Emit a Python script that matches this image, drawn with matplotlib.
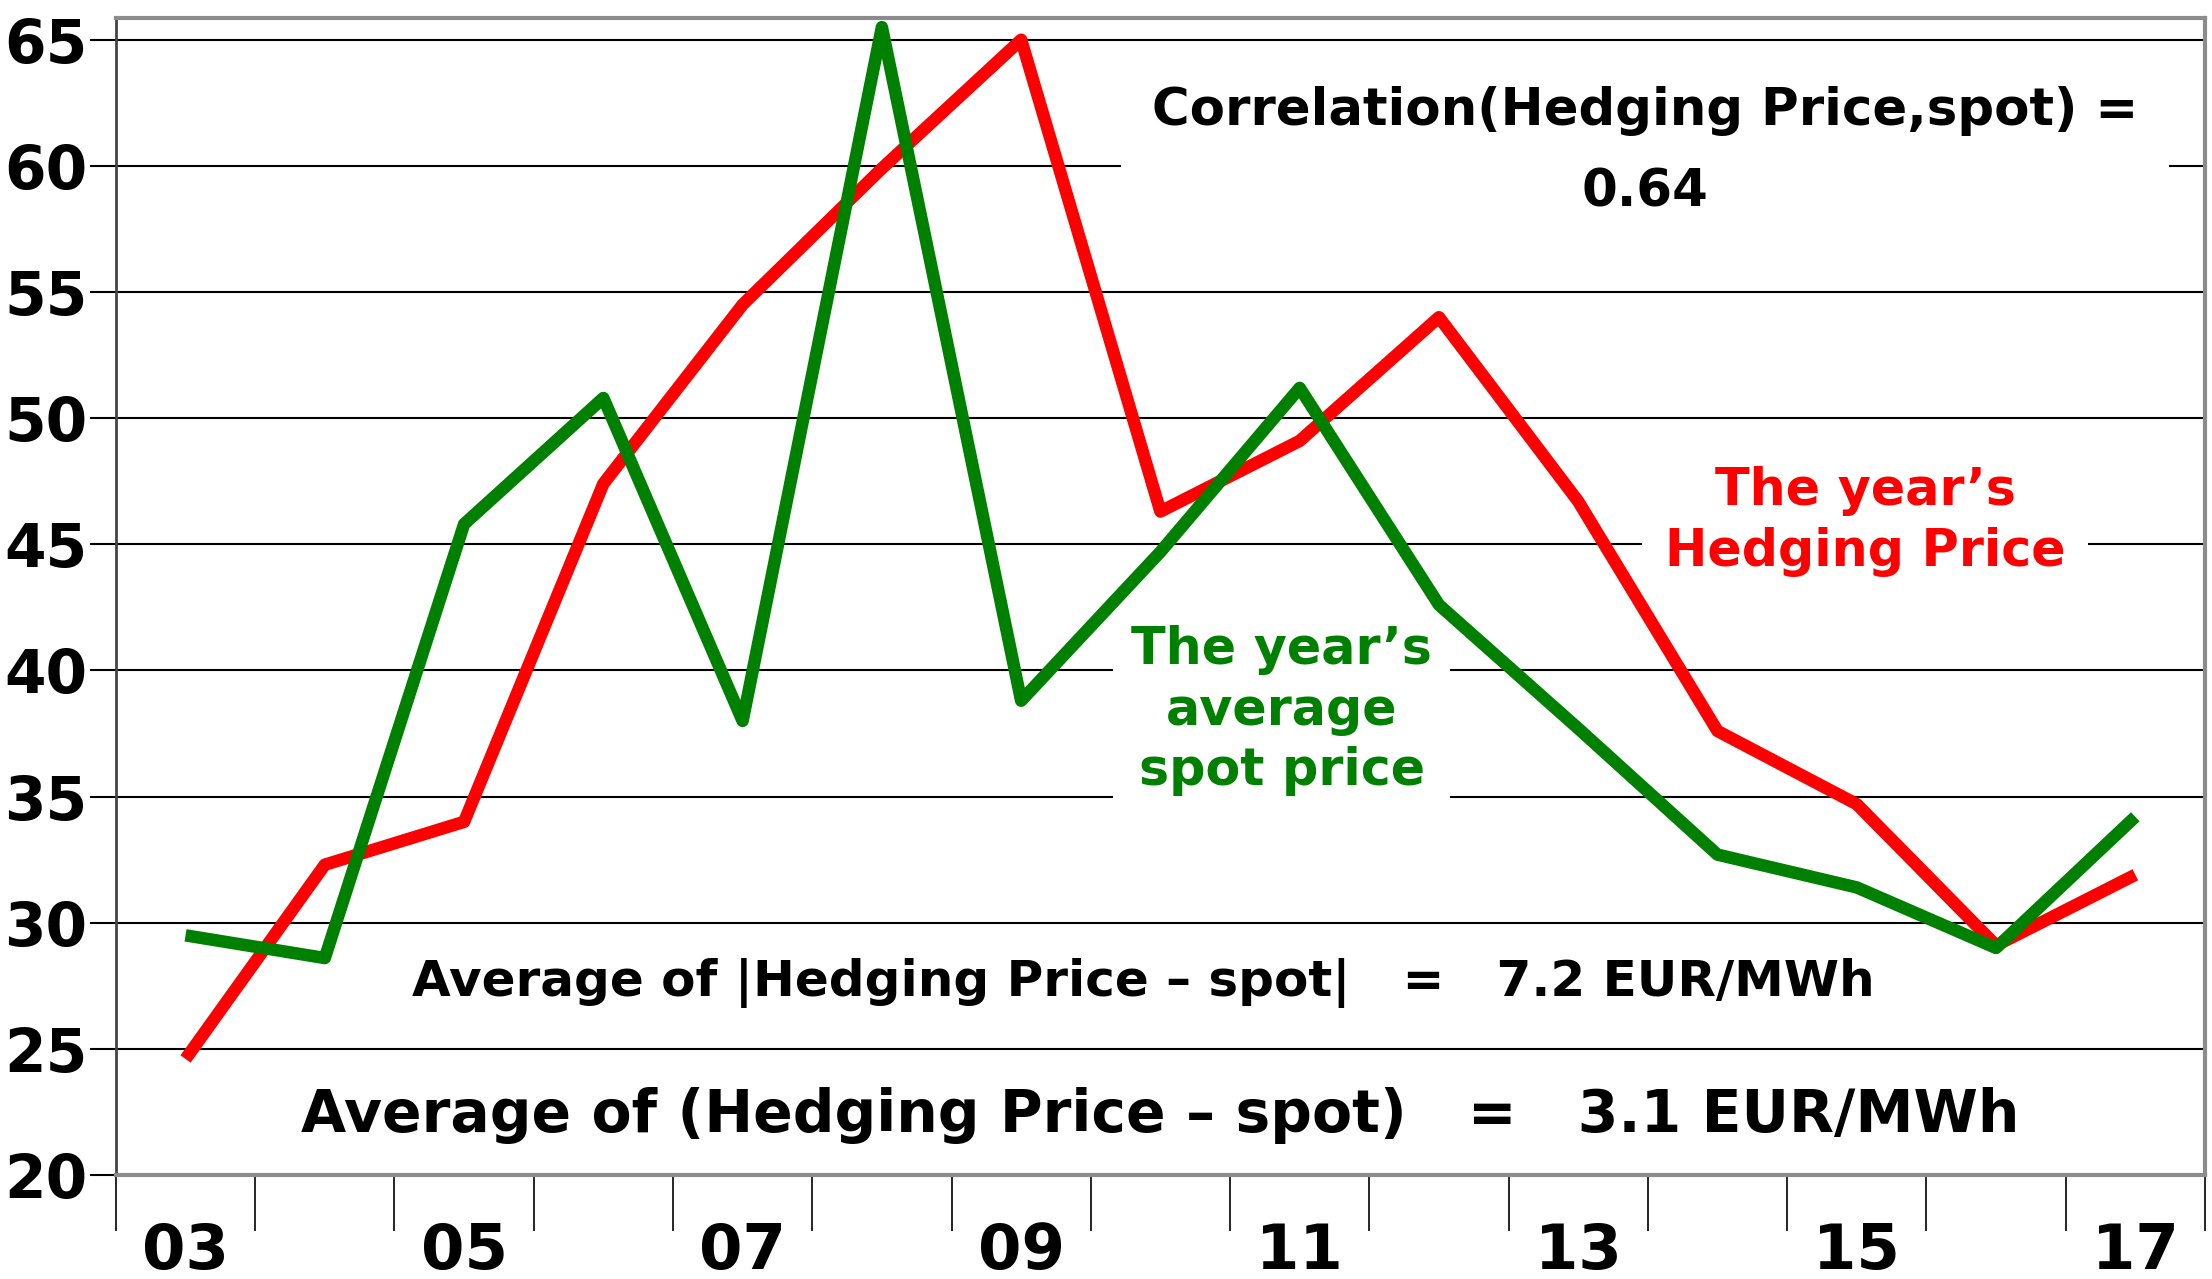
import numpy as np
import matplotlib
matplotlib.use('Agg')
import matplotlib.pyplot as plt

years = ['03','04','05','06','07','08','09','10','11','12','13','14','15','16','17']
hedging = [24.6, 32.3, 34.0, 47.4, 54.5, 59.9, 65.0, 46.3, 49.1, 54.0, 46.7, 37.6, 34.7, 29.1, 31.9]
spot = [29.5, 28.6, 45.8, 50.8, 38.0, 65.5, 38.8, 44.7, 51.2, 42.6, 37.7, 32.7, 31.4, 29.0, 34.2]
yticks = [20, 25, 30, 35, 40, 45, 50, 55, 60, 65]
xlabels_shown = ['03', '05', '07', '09', '11', '13', '15', '17']

plt.rcParams['font.family'] = ['DejaVu Sans']
plt.rcParams['font.weight'] = 'bold'

fig = plt.figure(figsize=(22.12, 12.79), dpi=100)
ax = fig.add_axes([0.0524, 0.0813, 0.9444, 0.9044])

x = np.arange(len(years))
ax.plot(x, hedging, color='#ff0000', lw=9, zorder=5, solid_joinstyle='round', solid_capstyle='butt')
ax.plot(x, spot, color='#008000', lw=9, zorder=6, solid_joinstyle='round', solid_capstyle='butt')

ax.set_xlim(-0.5, len(years) - 0.5)
ax.set_ylim(20, 65.85)

ax.set_yticks(yticks)
ax.set_yticklabels([str(v) for v in yticks], fontsize=43, fontweight='bold')
ax.tick_params(axis='y', direction='out', length=19, width=1.5, pad=1.5)

# category boundaries as major ticks, labels on minor ticks
ax.set_xticks(np.arange(-0.5, len(years), 1.0))
ax.set_xticklabels([])
ax.tick_params(axis='x', which='major', direction='out', length=40, width=1.2)
lab_pos = [years.index(s) for s in xlabels_shown]
ax.set_xticks(lab_pos, minor=True)
ax.set_xticklabels(xlabels_shown, minor=True, fontsize=45, fontweight='bold')
ax.tick_params(axis='x', which='minor', length=0, pad=34)

ax.grid(axis='y', color='black', lw=1.5, zorder=0)
ax.set_axisbelow(True)
for side in ['top', 'right', 'bottom']:
    ax.spines[side].set_color('#8c8c8c')
    ax.spines[side].set_linewidth(3)
ax.spines['left'].set_color('#444444')
ax.spines['left'].set_linewidth(2)

box = dict(facecolor='white', edgecolor='none')

ax.text(10.48, 60.55, 'Correlation(Hedging Price,spot) =\n0.64', ha='center', va='center',
        fontsize=37, fontweight='bold', linespacing=1.8, zorder=2,
        bbox=dict(box, boxstyle='square,pad=0.6'))
ax.text(12.06, 45.9, 'The year\u2019s\nHedging Price', ha='center', va='center',
        fontsize=36.5, fontweight='bold', color='#ff0000', linespacing=1.29, zorder=2,
        bbox=dict(box, boxstyle='square,pad=0.45'))
ax.text(7.87, 38.4, 'The year\u2019s\naverage\nspot price', ha='center', va='center',
        fontsize=36.5, fontweight='bold', color='#008000', linespacing=1.27, zorder=2,
        bbox=dict(box, boxstyle='square,pad=0.35'))
ax.text(6.88, 27.6, 'Average of |Hedging Price \u2013 spot|   =   7.2 EUR/MWh', ha='center', va='center',
        fontsize=36, fontweight='bold', zorder=2)
ax.text(7.0, 22.35, 'Average of (Hedging Price \u2013 spot)   =   3.1 EUR/MWh', ha='center', va='center',
        fontsize=42, fontweight='bold', zorder=2)

fig.savefig('out.png', dpi=100)
